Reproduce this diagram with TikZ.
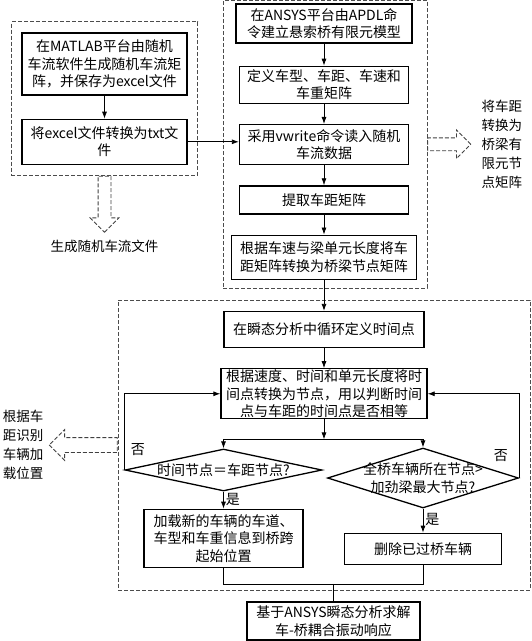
\documentclass[tikz,border=0pt]{standalone}
\usepackage{fontspec}
\setmainfont{Noto Sans CJK SC}
\usetikzlibrary{shapes.geometric, shapes.arrows, arrows.meta, positioning, fit, backgrounds}

\begin{document}
\begin{tikzpicture}[
    x=1pt, y=-1pt,
    font=\fontsize{14}{17.5}\selectfont,
    % --- Node styles ---
    process/.style = {rectangle, draw=black, line width=1.3pt, fill=white,
        align=center, inner sep=1pt},
    decision/.style = {diamond, draw=black, line width=1.3pt, fill=white,
        align=center, inner sep=0pt},
    note/.style = {align=center, inner sep=0pt, font=\fontsize{13.5}{19}\selectfont},
    tag/.style = {inner sep=2pt},
    % --- Arrow styles ---
    arrow/.style = {line width=0.8pt, -{Latex[length=7pt, width=5pt]}, draw=black},
    link/.style = {line width=0.8pt, draw=black},
    hollow/.style = {single arrow, draw=black!75, line width=0.8pt,
        dash pattern=on 4pt off 2pt, minimum width=0pt,
        single arrow head extend=8pt, inner sep=6pt},
    % --- Group box ---
    groupbox/.style = {rectangle, draw=black!70, line width=0.8pt,
        dash pattern=on 4pt off 2pt, inner sep=0pt}
]
\useasboundingbox (0,0) rectangle (532,641);

% ==================== MATLAB ====================
\node[process, minimum width=165pt, minimum height=62pt] (matlab) at (104.5,64)
    {在MATLAB平台由随机\\车流软件生成随机车流矩\\阵，并保存为excel文件};
\node[process, minimum width=165pt, minimum height=45pt, below=23pt of matlab] (totxt)
    {将excel文件转换为txt文\\件};

% ==================== ANSYS ====================
\node[process, minimum width=176pt, minimum height=39pt] (model) at (324,23.5)
    {在ANSYS平台由APDL命\\令建立悬索桥有限元模型};
\node[process, minimum width=169pt, minimum height=37pt, below=22pt of model] (define)
    {定义车型、车距、车速和\\车重矩阵};
\node[process, minimum width=169pt, minimum height=40pt, below=20pt of define] (vwrite)
    {采用vwrite命令读入随机\\车流数据};
\node[process, minimum width=169pt, minimum height=28pt, below=20pt of vwrite] (extract)
    {提取车距矩阵};
\node[process, minimum width=185pt, minimum height=44pt, below=20pt of extract] (convert)
    {根据车速与梁单元长度将车\\距矩阵转换为桥梁节点矩阵};

% ==================== LOOP ====================
\node[process, minimum width=200pt, minimum height=36pt, below=31pt of convert] (timept)
    {在瞬态分析中循环定义时间点};
\node[process, minimum width=206pt, minimum height=48pt, below=20pt of timept] (judge)
    {根据速度、时间和单元长度将时\\间点转换为节点，用以判断时间\\点与车距的时间点是否相等};

\node[decision, minimum width=197pt, minimum height=42pt, aspect=4.7] (equal) at (223.5,470)
    {时间节点＝车距节点?};
\node[decision, minimum width=191pt, minimum height=60pt, aspect=3.2, inner sep=-4pt] (pass) at (423,478)
    {全桥车辆所在节点>\\加劲梁最大节点?};

\node[process, minimum width=159pt, minimum height=58pt, below=17pt of equal] (load)
    {加载新的车辆的车道、\\车型和车重信息到桥跨\\起始位置};
\node[process, minimum width=157pt, minimum height=31pt, below=24pt of pass] (delete)
    {删除已过桥车辆};

\node[process, minimum width=173pt, minimum height=38pt] (final) at (333.5,621)
    {基于ANSYS瞬态分析求解\\车-桥耦合振动响应};

% ==================== ARROWS ====================
\draw[arrow] (matlab) -- (totxt);
\draw[arrow] (totxt.east) -- (totxt.east -| vwrite.west);
\draw[arrow] (model) -- (define);
\draw[arrow] (define) -- (vwrite);
\draw[arrow] (vwrite) -- (extract);
\draw[arrow] (extract) -- (convert);
\draw[arrow] (convert) -- (timept);
\draw[arrow] (timept) -- (judge);
\draw[arrow] (judge.south) -- ++(0,20) coordinate (split);
\draw[arrow] (split) -| (equal.north);
\draw[arrow] (split) -| (pass.north);
\draw[arrow] (equal) -- node[tag, right, pos=0.45] {是} (load);
\draw[arrow] (pass) -- node[tag, right, pos=0.45] {是} (delete);

% "否" loops back
\draw[arrow] (equal.west) -- node[tag, right=4pt, pos=0.27] {否} (equal.west |- judge.west) -- (judge.west);
\draw[arrow] (pass.east) -- node[tag, left=9pt, pos=0.27] {否} (pass.east |- judge.east) -- (judge.east);

% merge into final
\draw[link] (load.south) -- ++(0,16) coordinate (merge) -| (delete.south);
\draw[link] (merge -| final.north) -- (final.north);

% ==================== GROUP BOXES ====================
\begin{scope}[on background layer]
    \node[groupbox, fit=(matlab) (totxt), inner xsep=10pt, inner ysep=10.5pt] (grpA) {};
    \node[groupbox, fit={(223,0.5) (427,288)}] (grpB) {};
    \node[groupbox, fit={(118,300) (530,590)}] (grpC) {};
\end{scope}

% ==================== OUTPUTS ====================
\node[hollow, minimum height=56pt, rotate=-90, anchor=tail] (arrA) at (grpA.south) {};
\node[hollow, minimum height=43pt, anchor=tail] (arrB) at (grpB.east) {};
\node[hollow, minimum height=68pt, rotate=180, anchor=tail, inner sep=7pt] (arrC) at (grpC.west) {};

\node[note, below=7pt of arrA.tip] (outA) {生成随机车流文件};
\node[note, right=10pt of arrB.tip] (outB) {将车距\\转换为\\桥梁有\\限元节\\点矩阵};
\node[note, left=5pt of arrC.tip] (outC) {根据车\\距识别\\车辆加\\载位置};

\end{tikzpicture}
\end{document}
